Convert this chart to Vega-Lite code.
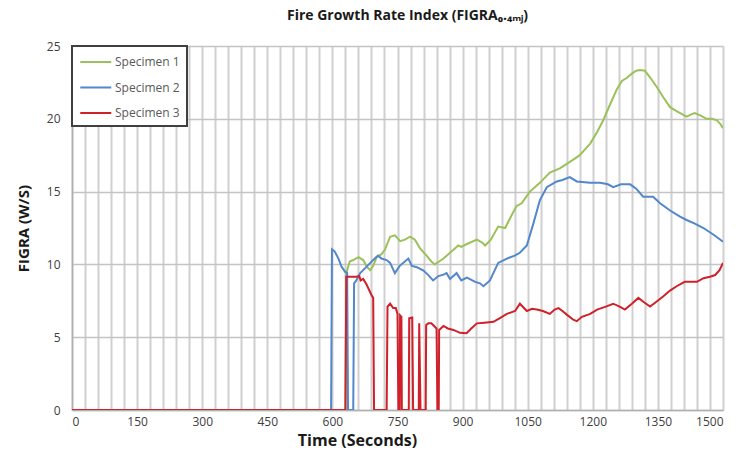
{
  "$schema": "https://vega.github.io/schema/vega-lite/v6.json",
  "width": 651,
  "height": 364,
  "autosize": {"type": "none"},
  "padding": {"left": 72, "top": 46, "right": 21, "bottom": 45},
  "background": "white",
  "title": {
    "text": "Fire Growth Rate Index (FIGRA₀.₄ₘⱼ)",
    "font": "Open Sans",
    "fontSize": 14,
    "fontWeight": "bold",
    "color": "#1a1a1a",
    "anchor": "middle",
    "dx": 10,
    "offset": 17
  },
  "config": {
    "view": {"stroke": null},
    "axis": {
      "labelFont": "Open Sans",
      "labelFontSize": 12,
      "labelColor": "#404040",
      "titleFont": "Open Sans",
      "titleFontSize": 15,
      "titleFontWeight": "bold",
      "titleColor": "#1a1a1a",
      "ticks": false,
      "domainColor": "#b0b0b0",
      "domainWidth": 1.5
    }
  },
  "datasets": {
    "figra": [
      {"s": "Specimen 1", "t": 0, "v": 0},
      {"s": "Specimen 1", "t": 630, "v": 0},
      {"s": "Specimen 1", "t": 632, "v": 9.4},
      {"s": "Specimen 1", "t": 640, "v": 10.2},
      {"s": "Specimen 1", "t": 648, "v": 10.3},
      {"s": "Specimen 1", "t": 660, "v": 10.5},
      {"s": "Specimen 1", "t": 671, "v": 10.3},
      {"s": "Specimen 1", "t": 679, "v": 9.85},
      {"s": "Specimen 1", "t": 687, "v": 9.6},
      {"s": "Specimen 1", "t": 694, "v": 9.9},
      {"s": "Specimen 1", "t": 702, "v": 10.5},
      {"s": "Specimen 1", "t": 713, "v": 10.7},
      {"s": "Specimen 1", "t": 721, "v": 11.0},
      {"s": "Specimen 1", "t": 733, "v": 11.9},
      {"s": "Specimen 1", "t": 744, "v": 12.0},
      {"s": "Specimen 1", "t": 750, "v": 11.8},
      {"s": "Specimen 1", "t": 756, "v": 11.6},
      {"s": "Specimen 1", "t": 767, "v": 11.7},
      {"s": "Specimen 1", "t": 779, "v": 11.9},
      {"s": "Specimen 1", "t": 790, "v": 11.7},
      {"s": "Specimen 1", "t": 802, "v": 11.1},
      {"s": "Specimen 1", "t": 817, "v": 10.6},
      {"s": "Specimen 1", "t": 828, "v": 10.2},
      {"s": "Specimen 1", "t": 836, "v": 10.0},
      {"s": "Specimen 1", "t": 846, "v": 10.2},
      {"s": "Specimen 1", "t": 856, "v": 10.4},
      {"s": "Specimen 1", "t": 871, "v": 10.8},
      {"s": "Specimen 1", "t": 879, "v": 11.0},
      {"s": "Specimen 1", "t": 890, "v": 11.3},
      {"s": "Specimen 1", "t": 897, "v": 11.2},
      {"s": "Specimen 1", "t": 910, "v": 11.4},
      {"s": "Specimen 1", "t": 933, "v": 11.7},
      {"s": "Specimen 1", "t": 945, "v": 11.5},
      {"s": "Specimen 1", "t": 952, "v": 11.3},
      {"s": "Specimen 1", "t": 965, "v": 11.7},
      {"s": "Specimen 1", "t": 982, "v": 12.6},
      {"s": "Specimen 1", "t": 998, "v": 12.5},
      {"s": "Specimen 1", "t": 1010, "v": 13.2},
      {"s": "Specimen 1", "t": 1024, "v": 14.0},
      {"s": "Specimen 1", "t": 1036, "v": 14.2},
      {"s": "Specimen 1", "t": 1055, "v": 15.0},
      {"s": "Specimen 1", "t": 1078, "v": 15.6},
      {"s": "Specimen 1", "t": 1101, "v": 16.3},
      {"s": "Specimen 1", "t": 1124, "v": 16.6},
      {"s": "Specimen 1", "t": 1140, "v": 16.9},
      {"s": "Specimen 1", "t": 1155, "v": 17.2},
      {"s": "Specimen 1", "t": 1170, "v": 17.5},
      {"s": "Specimen 1", "t": 1182, "v": 17.9},
      {"s": "Specimen 1", "t": 1194, "v": 18.3},
      {"s": "Specimen 1", "t": 1210, "v": 19.1},
      {"s": "Specimen 1", "t": 1224, "v": 19.9},
      {"s": "Specimen 1", "t": 1240, "v": 21.0},
      {"s": "Specimen 1", "t": 1255, "v": 22.0},
      {"s": "Specimen 1", "t": 1267, "v": 22.6},
      {"s": "Specimen 1", "t": 1278, "v": 22.8},
      {"s": "Specimen 1", "t": 1290, "v": 23.1},
      {"s": "Specimen 1", "t": 1300, "v": 23.3},
      {"s": "Specimen 1", "t": 1309, "v": 23.35},
      {"s": "Specimen 1", "t": 1320, "v": 23.3},
      {"s": "Specimen 1", "t": 1333, "v": 22.8},
      {"s": "Specimen 1", "t": 1347, "v": 22.2},
      {"s": "Specimen 1", "t": 1362, "v": 21.5},
      {"s": "Specimen 1", "t": 1378, "v": 20.8},
      {"s": "Specimen 1", "t": 1395, "v": 20.5},
      {"s": "Specimen 1", "t": 1416, "v": 20.15},
      {"s": "Specimen 1", "t": 1427, "v": 20.3},
      {"s": "Specimen 1", "t": 1435, "v": 20.4},
      {"s": "Specimen 1", "t": 1450, "v": 20.2},
      {"s": "Specimen 1", "t": 1462, "v": 20.0},
      {"s": "Specimen 1", "t": 1475, "v": 20.0},
      {"s": "Specimen 1", "t": 1486, "v": 19.9},
      {"s": "Specimen 1", "t": 1495, "v": 19.6},
      {"s": "Specimen 1", "t": 1500, "v": 19.35},
      {"s": "Specimen 2", "t": 0, "v": 0},
      {"s": "Specimen 2", "t": 597, "v": 0},
      {"s": "Specimen 2", "t": 599, "v": 11.04},
      {"s": "Specimen 2", "t": 605, "v": 10.9},
      {"s": "Specimen 2", "t": 614, "v": 10.4},
      {"s": "Specimen 2", "t": 621, "v": 9.85},
      {"s": "Specimen 2", "t": 629, "v": 9.5},
      {"s": "Specimen 2", "t": 634, "v": 9.4},
      {"s": "Specimen 2", "t": 636, "v": 0},
      {"s": "Specimen 2", "t": 648, "v": 0},
      {"s": "Specimen 2", "t": 650, "v": 8.7},
      {"s": "Specimen 2", "t": 655, "v": 8.9},
      {"s": "Specimen 2", "t": 664, "v": 9.4},
      {"s": "Specimen 2", "t": 679, "v": 9.85},
      {"s": "Specimen 2", "t": 694, "v": 10.3},
      {"s": "Specimen 2", "t": 705, "v": 10.6},
      {"s": "Specimen 2", "t": 713, "v": 10.4},
      {"s": "Specimen 2", "t": 725, "v": 10.3},
      {"s": "Specimen 2", "t": 733, "v": 10.1},
      {"s": "Specimen 2", "t": 744, "v": 9.4},
      {"s": "Specimen 2", "t": 755, "v": 9.9},
      {"s": "Specimen 2", "t": 767, "v": 10.2},
      {"s": "Specimen 2", "t": 775, "v": 10.4},
      {"s": "Specimen 2", "t": 783, "v": 9.9},
      {"s": "Specimen 2", "t": 795, "v": 9.8},
      {"s": "Specimen 2", "t": 809, "v": 9.6},
      {"s": "Specimen 2", "t": 820, "v": 9.3},
      {"s": "Specimen 2", "t": 832, "v": 8.9},
      {"s": "Specimen 2", "t": 844, "v": 9.2},
      {"s": "Specimen 2", "t": 856, "v": 9.3},
      {"s": "Specimen 2", "t": 863, "v": 9.4},
      {"s": "Specimen 2", "t": 871, "v": 9.0},
      {"s": "Specimen 2", "t": 886, "v": 9.4},
      {"s": "Specimen 2", "t": 897, "v": 8.9},
      {"s": "Specimen 2", "t": 910, "v": 9.1},
      {"s": "Specimen 2", "t": 929, "v": 8.8},
      {"s": "Specimen 2", "t": 940, "v": 8.7},
      {"s": "Specimen 2", "t": 948, "v": 8.5},
      {"s": "Specimen 2", "t": 963, "v": 8.9},
      {"s": "Specimen 2", "t": 982, "v": 10.1},
      {"s": "Specimen 2", "t": 1002, "v": 10.4},
      {"s": "Specimen 2", "t": 1020, "v": 10.6},
      {"s": "Specimen 2", "t": 1032, "v": 10.8},
      {"s": "Specimen 2", "t": 1048, "v": 11.3},
      {"s": "Specimen 2", "t": 1063, "v": 12.8},
      {"s": "Specimen 2", "t": 1078, "v": 14.4},
      {"s": "Specimen 2", "t": 1094, "v": 15.3},
      {"s": "Specimen 2", "t": 1117, "v": 15.7},
      {"s": "Specimen 2", "t": 1130, "v": 15.8},
      {"s": "Specimen 2", "t": 1147, "v": 16.0},
      {"s": "Specimen 2", "t": 1163, "v": 15.7},
      {"s": "Specimen 2", "t": 1194, "v": 15.6},
      {"s": "Specimen 2", "t": 1217, "v": 15.6},
      {"s": "Specimen 2", "t": 1235, "v": 15.5},
      {"s": "Specimen 2", "t": 1247, "v": 15.3},
      {"s": "Specimen 2", "t": 1265, "v": 15.5},
      {"s": "Specimen 2", "t": 1286, "v": 15.5},
      {"s": "Specimen 2", "t": 1300, "v": 15.2},
      {"s": "Specimen 2", "t": 1316, "v": 14.65},
      {"s": "Specimen 2", "t": 1339, "v": 14.65},
      {"s": "Specimen 2", "t": 1355, "v": 14.2},
      {"s": "Specimen 2", "t": 1378, "v": 13.7},
      {"s": "Specimen 2", "t": 1400, "v": 13.3},
      {"s": "Specimen 2", "t": 1416, "v": 13.05},
      {"s": "Specimen 2", "t": 1435, "v": 12.8},
      {"s": "Specimen 2", "t": 1455, "v": 12.5},
      {"s": "Specimen 2", "t": 1480, "v": 12.0},
      {"s": "Specimen 2", "t": 1500, "v": 11.56},
      {"s": "Specimen 3", "t": 0, "v": 0},
      {"s": "Specimen 3", "t": 630, "v": 0},
      {"s": "Specimen 3", "t": 632, "v": 9.15},
      {"s": "Specimen 3", "t": 656, "v": 9.15},
      {"s": "Specimen 3", "t": 662, "v": 9.2},
      {"s": "Specimen 3", "t": 665, "v": 8.9},
      {"s": "Specimen 3", "t": 671, "v": 9.0},
      {"s": "Specimen 3", "t": 679, "v": 8.6},
      {"s": "Specimen 3", "t": 690, "v": 7.9},
      {"s": "Specimen 3", "t": 694, "v": 7.7},
      {"s": "Specimen 3", "t": 696, "v": 0},
      {"s": "Specimen 3", "t": 725, "v": 0},
      {"s": "Specimen 3", "t": 727, "v": 7.1},
      {"s": "Specimen 3", "t": 733, "v": 7.3},
      {"s": "Specimen 3", "t": 740, "v": 7.0},
      {"s": "Specimen 3", "t": 746, "v": 7.0},
      {"s": "Specimen 3", "t": 750, "v": 6.6},
      {"s": "Specimen 3", "t": 752, "v": 0},
      {"s": "Specimen 3", "t": 755, "v": 0},
      {"s": "Specimen 3", "t": 756, "v": 6.5},
      {"s": "Specimen 3", "t": 759, "v": 6.4},
      {"s": "Specimen 3", "t": 760, "v": 0},
      {"s": "Specimen 3", "t": 776, "v": 0},
      {"s": "Specimen 3", "t": 777, "v": 6.3},
      {"s": "Specimen 3", "t": 784, "v": 6.35},
      {"s": "Specimen 3", "t": 786, "v": 0},
      {"s": "Specimen 3", "t": 799, "v": 0},
      {"s": "Specimen 3", "t": 800, "v": 5.95},
      {"s": "Specimen 3", "t": 803, "v": 0},
      {"s": "Specimen 3", "t": 815, "v": 0},
      {"s": "Specimen 3", "t": 816, "v": 5.84},
      {"s": "Specimen 3", "t": 821, "v": 5.95},
      {"s": "Specimen 3", "t": 828, "v": 5.95},
      {"s": "Specimen 3", "t": 832, "v": 5.84},
      {"s": "Specimen 3", "t": 840, "v": 5.6},
      {"s": "Specimen 3", "t": 842, "v": 0},
      {"s": "Specimen 3", "t": 845, "v": 0},
      {"s": "Specimen 3", "t": 846, "v": 5.5},
      {"s": "Specimen 3", "t": 856, "v": 5.77},
      {"s": "Specimen 3", "t": 866, "v": 5.6},
      {"s": "Specimen 3", "t": 879, "v": 5.5},
      {"s": "Specimen 3", "t": 894, "v": 5.3},
      {"s": "Specimen 3", "t": 909, "v": 5.27},
      {"s": "Specimen 3", "t": 920, "v": 5.6},
      {"s": "Specimen 3", "t": 933, "v": 5.95},
      {"s": "Specimen 3", "t": 950, "v": 6.0},
      {"s": "Specimen 3", "t": 971, "v": 6.06},
      {"s": "Specimen 3", "t": 985, "v": 6.3},
      {"s": "Specimen 3", "t": 1002, "v": 6.6},
      {"s": "Specimen 3", "t": 1021, "v": 6.8},
      {"s": "Specimen 3", "t": 1032, "v": 7.3},
      {"s": "Specimen 3", "t": 1048, "v": 6.8},
      {"s": "Specimen 3", "t": 1060, "v": 6.95},
      {"s": "Specimen 3", "t": 1071, "v": 6.9},
      {"s": "Specimen 3", "t": 1085, "v": 6.8},
      {"s": "Specimen 3", "t": 1101, "v": 6.6},
      {"s": "Specimen 3", "t": 1112, "v": 6.9},
      {"s": "Specimen 3", "t": 1121, "v": 7.0},
      {"s": "Specimen 3", "t": 1130, "v": 6.8},
      {"s": "Specimen 3", "t": 1140, "v": 6.55},
      {"s": "Specimen 3", "t": 1155, "v": 6.2},
      {"s": "Specimen 3", "t": 1163, "v": 6.1},
      {"s": "Specimen 3", "t": 1175, "v": 6.4},
      {"s": "Specimen 3", "t": 1194, "v": 6.6},
      {"s": "Specimen 3", "t": 1210, "v": 6.9},
      {"s": "Specimen 3", "t": 1230, "v": 7.1},
      {"s": "Specimen 3", "t": 1247, "v": 7.3},
      {"s": "Specimen 3", "t": 1262, "v": 7.1},
      {"s": "Specimen 3", "t": 1274, "v": 6.9},
      {"s": "Specimen 3", "t": 1290, "v": 7.3},
      {"s": "Specimen 3", "t": 1305, "v": 7.7},
      {"s": "Specimen 3", "t": 1318, "v": 7.4},
      {"s": "Specimen 3", "t": 1332, "v": 7.1},
      {"s": "Specimen 3", "t": 1345, "v": 7.4},
      {"s": "Specimen 3", "t": 1362, "v": 7.8},
      {"s": "Specimen 3", "t": 1378, "v": 8.2},
      {"s": "Specimen 3", "t": 1393, "v": 8.5},
      {"s": "Specimen 3", "t": 1412, "v": 8.8},
      {"s": "Specimen 3", "t": 1440, "v": 8.8},
      {"s": "Specimen 3", "t": 1455, "v": 9.05},
      {"s": "Specimen 3", "t": 1470, "v": 9.15},
      {"s": "Specimen 3", "t": 1482, "v": 9.27},
      {"s": "Specimen 3", "t": 1492, "v": 9.6},
      {"s": "Specimen 3", "t": 1500, "v": 10.1}
    ]
  },
  "data": {"name": "figra"},
  "mark": {"type": "line", "strokeWidth": 2, "interpolate": "linear", "clip": true},
  "encoding": {
    "x": {
      "field": "t",
      "type": "quantitative",
      "title": "Time (Seconds)",
      "scale": {"domain": [0, 1500], "nice": false, "zero": false},
      "axis": {
        "values": [0,30,60,90,120,150,180,210,240,270,300,330,360,390,420,450,480,510,540,570,600,630,660,690,720,750,780,810,840,870,900,930,960,990,1020,1050,1080,1110,1140,1170,1200,1230,1260,1290,1320,1350,1380,1410,1440,1470,1500],
        "format": "d",
        "labelExpr": "datum.value % 150 === 0 ? datum.label : ''",
        "labelOverlap": false,
        "labelPadding": 6,
        "grid": true,
        "gridColor": "#d0d0d0",
        "gridWidth": 2,
        "titleFontSize": 16,
        "titleX": 285,
        "titlePadding": 5
      }
    },
    "y": {
      "field": "v",
      "type": "quantitative",
      "title": "FIGRA (W/S)",
      "scale": {"domain": [0, 25], "nice": false},
      "axis": {
        "values": [0, 5, 10, 15, 20, 25],
        "labelPadding": 12,
        "grid": true,
        "gridColor": "#c4c4c4",
        "gridWidth": 1.5,
        "titlePadding": 15
      }
    },
    "color": {
      "field": "s",
      "type": "nominal",
      "scale": {
        "domain": ["Specimen 1", "Specimen 2", "Specimen 3"],
        "range": ["#9bc15a", "#5287cc", "#d0202a"]
      },
      "legend": {
        "title": null,
        "orient": "none",
        "legendX": 0,
        "legendY": 0,
        "symbolType": "M-1,0H3",
        "symbolSize": 240,
        "symbolStrokeWidth": 2,
        "labelOffset": 18,
        "rowPadding": 10.5,
        "padding": 7,
        "strokeColor": "#404040",
        "fillColor": "white",
        "labelFont": "Open Sans",
        "labelFontSize": 12,
        "labelColor": "#595959",
        "encode": {"legend": {"update": {"strokeWidth": {"value": 2}}}}
      }
    }
  }
}
